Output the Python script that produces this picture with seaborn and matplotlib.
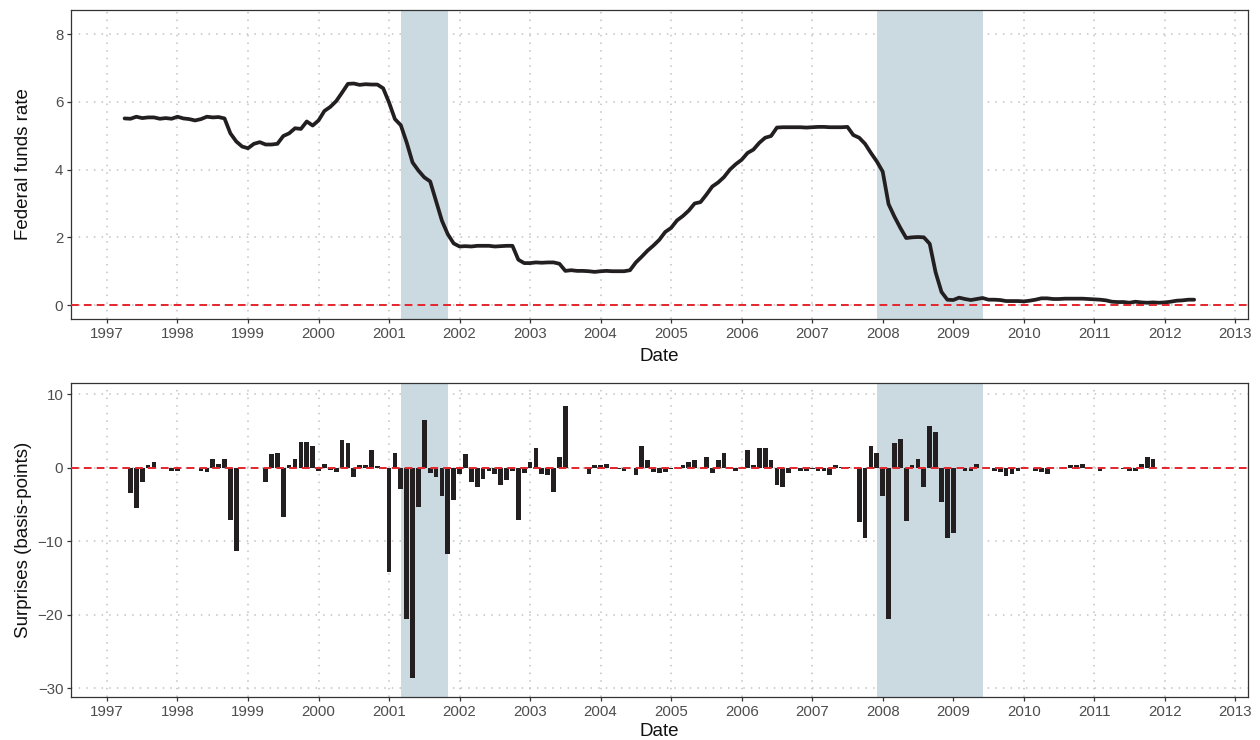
import numpy as np
import pandas as pd
import matplotlib
matplotlib.use("Agg")
import matplotlib.pyplot as plt
import seaborn as sns

# ---------------- data ----------------
months = pd.date_range("1997-04-01", "2012-06-01", freq="MS")

ffr_1997 = [5.51, 5.50, 5.56, 5.52, 5.54, 5.54, 5.50, 5.52, 5.50]
ffr_1998 = [5.56, 5.51, 5.49, 5.45, 5.49, 5.56, 5.54, 5.55, 5.51, 5.07, 4.83, 4.68]
ffr_1999 = [4.63, 4.76, 4.81, 4.74, 4.74, 4.76, 4.99, 5.07, 5.22, 5.20, 5.42, 5.30]
ffr_2000 = [5.45, 5.73, 5.85, 6.02, 6.27, 6.53, 6.54, 6.50, 6.52, 6.51, 6.51, 6.40]
ffr_2001 = [5.98, 5.49, 5.31, 4.80, 4.21, 3.97, 3.77, 3.65, 3.07, 2.49, 2.09, 1.82]
ffr_2002 = [1.73, 1.74, 1.73, 1.75, 1.75, 1.75, 1.73, 1.74, 1.75, 1.75, 1.34, 1.24]
ffr_2003 = [1.24, 1.26, 1.25, 1.26, 1.26, 1.22, 1.01, 1.03, 1.01, 1.01, 1.00, 0.98]
ffr_2004 = [1.00, 1.01, 1.00, 1.00, 1.00, 1.03, 1.26, 1.43, 1.61, 1.76, 1.93, 2.16]
ffr_2005 = [2.28, 2.50, 2.63, 2.79, 3.00, 3.04, 3.26, 3.50, 3.62, 3.78, 4.00, 4.16]
ffr_2006 = [4.29, 4.49, 4.59, 4.79, 4.94, 4.99, 5.24, 5.25, 5.25, 5.25, 5.25, 5.24]
ffr_2007 = [5.25, 5.26, 5.26, 5.25, 5.25, 5.25, 5.26, 5.02, 4.94, 4.76, 4.49, 4.24]
ffr_2008 = [3.94, 2.98, 2.61, 2.28, 1.98, 2.00, 2.01, 2.00, 1.81, 0.97, 0.39, 0.16]
ffr_2009 = [0.15, 0.22, 0.18, 0.15, 0.18, 0.21, 0.16, 0.16, 0.15, 0.12, 0.12, 0.12]
ffr_2010 = [0.11, 0.13, 0.16, 0.20, 0.20, 0.18, 0.18, 0.19, 0.19, 0.19, 0.19, 0.18]
ffr_2011 = [0.17, 0.16, 0.14, 0.10, 0.09, 0.09, 0.07, 0.10, 0.08, 0.07, 0.08, 0.07]
ffr_2012 = [0.08, 0.10, 0.13, 0.14, 0.16, 0.16]

sur_1997 = [0, -3.5, -5.5, -2.0, 0.4, 0.7, 0, 0, -0.5]
sur_1998 = [-0.5, 0, 0, 0, -0.4, -0.6, 1.1, 0.5, 1.1, -7.1, -11.4, 0]
sur_1999 = [0, 0, -0.1, -1.9, 1.9, 2.0, -6.7, 0.4, 1.2, 3.5, 3.5, 2.9]
sur_2000 = [-0.4, 0.5, -0.3, -0.6, 3.7, 3.3, -1.3, 0.3, 0.4, 2.4, 0.2, -0.2]
sur_2001 = [-14.2, 2.0, -2.9, -20.6, -28.6, -5.4, 6.5, -0.8, -1.3, -3.9, -11.8, -4.4]
sur_2002 = [-0.9, 1.9, -1.9, -2.7, -1.6, -0.5, -0.9, -2.4, -1.7, -0.4, -7.1, -0.8]
sur_2003 = [0.7, 2.7, -0.9, -1.0, -3.3, 1.5, 8.4, 0, 0, -0.1, -0.9, 0.4]
sur_2004 = [0.3, 0.5, -0.2, -0.2, -0.5, -0.1, -1.0, 2.9, 1.0, -0.6, -0.8, -0.6]
sur_2005 = [-0.2, 0, 0.4, 0.7, 1.0, 0, 1.5, -0.8, 1.0, 2.0, 0, -0.4]
sur_2006 = [0, 2.4, 0.4, 2.7, 2.6, 1.0, -2.4, -2.7, -0.8, 0, -0.4, -0.4]
sur_2007 = [-0.2, -0.5, -0.5, -1.0, 0.4, 0.1, 0.1, 0, -7.4, -9.6, 3.0, 2.0]
sur_2008 = [-3.9, -20.6, 3.4, 3.9, -7.3, 0.4, 1.2, -2.7, 5.7, 4.8, -4.7, -9.6]
sur_2009 = [-8.9, 0, -0.5, -0.5, 0.5, 0, 0, -0.4, -0.6, -1.2, -0.9, -0.4]
sur_2010 = [-0.2, 0, -0.5, -0.6, -0.9, 0, 0, 0, 0.3, 0.4, 0.5, 0.1]
sur_2011 = [-0.1, -0.4, 0, 0, 0, -0.2, -0.4, -0.4, 0.5, 1.4, 1.1, 0]
sur_2012 = [0, 0, 0, 0, 0, 0]

recessions = [("2001-03-01", "2001-11-01"), ("2007-12-01", "2009-06-01")]
year_ticks = list(range(1997, 2014))
rate_ticks = [0, 2, 4, 6, 8]
surprise_ticks = [-30, -20, -10, 0, 10]

ffr = np.concatenate([ffr_1997, ffr_1998, ffr_1999, ffr_2000, ffr_2001, ffr_2002,
                      ffr_2003, ffr_2004, ffr_2005, ffr_2006, ffr_2007, ffr_2008,
                      ffr_2009, ffr_2010, ffr_2011, ffr_2012])
surprise = np.concatenate([sur_1997, sur_1998, sur_1999, sur_2000, sur_2001, sur_2002,
                           sur_2003, sur_2004, sur_2005, sur_2006, sur_2007, sur_2008,
                           sur_2009, sur_2010, sur_2011, sur_2012])


def dec_year(d):
    d = pd.Timestamp(d)
    return d.year + (d.month - 1) / 12.0


xnum = np.round(np.array([dec_year(d) for d in months]), 6)
df = pd.DataFrame({"x": xnum, "ffr": ffr, "surprise": surprise})

# ---------------- style ----------------
sns.set_theme(style="white")
plt.rcParams['font.family'] = ['Liberation Sans', 'DejaVu Sans']
plt.rcParams['axes.unicode_minus'] = True

LINE = "#231f20"
SHADE = "#cbd9e1"
RED = "#e5262c"
TICKC = "#4d4d4d"
SPINE = "#333333"

fig = plt.figure(figsize=(12.6, 7.4), dpi=100)
ax1 = fig.add_axes([71 / 1260, 1 - 319 / 740, 1177 / 1260, 309 / 740])
ax2 = fig.add_axes([71 / 1260, 1 - 697 / 740, 1177 / 1260, 314 / 740])


def style(ax, yticks):
    ax.set_xlim(1996.49, 2013.18)
    ax.set_xticks(year_ticks)
    ax.set_xticklabels([str(y) for y in year_ticks])
    ax.set_yticks(yticks)
    ax.set_yticklabels([f"{t:d}".replace("-", "\u2212") for t in yticks])
    ax.set_axisbelow(True)
    ax.grid(True, color="#c2c2c2", linestyle=(0, (1, 4)), linewidth=1.1)
    for s in ax.spines.values():
        s.set_color(SPINE)
        s.set_linewidth(0.9)
        s.set_visible(True)
    ax.tick_params(axis="both", which="major", direction="out", length=3,
                   width=0.9, color=SPINE, labelcolor=TICKC, labelsize=10.8, pad=2.5,
                   bottom=True, left=True)
    for a, b in recessions:
        ax.axvspan(dec_year(a), dec_year(b), color=SHADE, lw=0, zorder=1)


# ---------------- top panel ----------------
style(ax1, rate_ticks)
sns.lineplot(data=df, x="x", y="ffr", ax=ax1, color=LINE, linewidth=2.7,
             errorbar=None, zorder=3)
ax1.axhline(0, color=RED, linestyle=(0, (4, 2.6)), linewidth=1.4, zorder=4)
ax1.set_ylim(-0.41, 8.71)
ax1.set_xlim(1996.49, 2013.18)
ax1.set_xlabel("Date", fontsize=13.5, color="#111111", labelpad=5.5)
ax1.set_ylabel("Federal funds rate", fontsize=13.5, color="#111111")
ax1.yaxis.set_label_coords(-0.033, 0.5)

# ---------------- bottom panel ----------------
style(ax2, surprise_ticks)
sns.barplot(data=df, x="x", y="surprise", ax=ax2, native_scale=True, orient="x",
            color=LINE, saturation=1, width=0.8, errorbar=None, linewidth=0,
            zorder=3)
ax2.axhline(0, color=RED, linestyle=(0, (4, 2.6)), linewidth=1.4, zorder=4)
ax2.set_ylim(-31.2, 11.5)
ax2.set_xlim(1996.49, 2013.18)
ax2.set_xticks(year_ticks)
ax2.set_xticklabels([str(y) for y in year_ticks])
ax2.set_xlabel("Date", fontsize=13.5, color="#111111", labelpad=3.5)
ax2.set_ylabel("Surprises (basis-points)", fontsize=13.5, color="#111111")
ax2.yaxis.set_label_coords(-0.033, 0.5)

fig.savefig("out.png", dpi=100)
